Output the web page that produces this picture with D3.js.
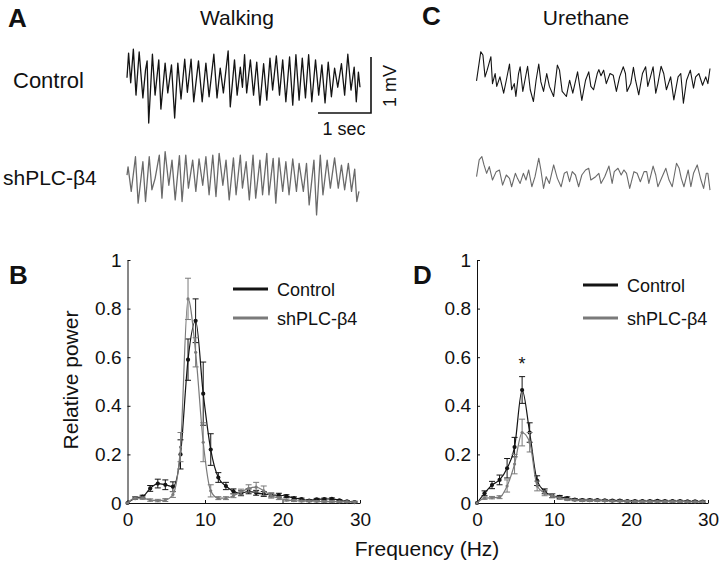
<!DOCTYPE html>
<html><head><meta charset="utf-8">
<script src="https://cdn.jsdelivr.net/npm/d3@7"></script>
<style>body{margin:0;background:#fff}svg{display:block;font-family:"Liberation Sans",Arial,sans-serif}</style>
</head><body><svg id="c" width="720" height="564"></svg>
<script>
// ---------- DATA ----------
// EEG traces: [time (s), voltage (mV)]
const walkControl = [[0.00,0.13],[0.03,0.57],[0.07,0.04],[0.12,0.64],[0.17,-0.18],[0.23,0.59],[0.30,-0.23],[0.35,0.27],[0.38,0.43],[0.41,-0.68],[0.48,0.55],[0.53,-0.18],[0.60,0.45],[0.64,-0.43],[0.72,0.39],[0.77,-0.14],[0.84,0.36],[0.90,-0.59],[0.96,0.39],[1.02,-0.25],[1.09,0.46],[1.14,-0.13],[1.21,0.46],[1.26,-0.30],[1.35,0.43],[1.42,-0.30],[1.49,0.39],[1.55,-0.21],[1.64,0.55],[1.70,-0.23],[1.76,0.30],[1.82,-0.14],[1.91,0.61],[1.95,-0.39],[2.03,0.45],[2.08,-0.18],[2.14,0.32],[2.18,-0.04],[2.22,0.54],[2.26,-0.14],[2.33,0.45],[2.39,-0.18],[2.45,0.41],[2.51,-0.36],[2.58,0.38],[2.64,-0.27],[2.70,0.48],[2.75,-0.09],[2.82,0.52],[2.88,-0.18],[2.94,0.45],[3.00,-0.30],[3.07,0.50],[3.13,-0.36],[3.19,0.54],[3.25,-0.27],[3.31,0.48],[3.37,-0.23],[3.43,0.54],[3.49,-0.30],[3.56,0.45],[3.62,-0.18],[3.68,0.36],[3.74,-0.32],[3.80,0.41],[3.86,-0.21],[3.92,0.30],[3.98,-0.04],[4.05,0.38],[4.11,-0.18],[4.17,0.55],[4.23,-0.09],[4.29,0.32],[4.33,-0.30],[4.37,0.23],[4.40,-0.04]];
const walkShPLC = [[0.00,0.05],[0.02,0.20],[0.08,-0.24],[0.16,0.38],[0.21,-0.45],[0.30,0.29],[0.35,-0.42],[0.42,0.38],[0.47,-0.21],[0.53,-0.01],[0.61,0.41],[0.66,-0.36],[0.72,0.47],[0.79,-0.13],[0.85,0.32],[0.91,-0.39],[0.99,0.40],[1.04,-0.42],[1.11,0.41],[1.16,-0.18],[1.24,0.32],[1.30,-0.24],[1.36,0.34],[1.43,-0.13],[1.49,0.38],[1.55,-0.30],[1.62,0.41],[1.68,-0.33],[1.74,0.44],[1.81,-0.13],[1.87,0.32],[1.93,-0.39],[2.01,0.36],[2.06,-0.30],[2.14,0.41],[2.18,-0.18],[2.25,0.29],[2.31,-0.39],[2.38,0.41],[2.43,-0.36],[2.51,0.32],[2.56,-0.30],[2.64,0.44],[2.68,-0.30],[2.76,0.35],[2.81,-0.45],[2.87,0.36],[2.94,-0.24],[3.00,0.29],[3.06,-0.30],[3.13,0.34],[3.20,-0.24],[3.25,0.26],[3.33,-0.24],[3.39,0.26],[3.44,-0.48],[3.53,0.32],[3.58,-0.66],[3.65,0.41],[3.70,-0.30],[3.78,0.32],[3.84,-0.18],[3.92,0.36],[3.99,-0.18],[4.05,0.23],[4.11,-0.21],[4.18,0.26],[4.24,-0.24],[4.30,0.16],[4.34,-0.42],[4.38,-0.24]];
const urethaneControl = [[0.01,-0.05],[0.09,0.47],[0.13,0.41],[0.17,0.02],[0.21,0.14],[0.28,0.38],[0.31,-0.10],[0.36,0.08],[0.39,-0.15],[0.45,0.02],[0.52,-0.27],[0.57,-0.04],[0.63,0.25],[0.67,-0.21],[0.72,-0.10],[0.75,-0.33],[0.80,0.08],[0.83,0.20],[0.88,-0.24],[0.92,-0.04],[0.97,0.21],[1.02,-0.21],[1.08,-0.42],[1.13,-0.04],[1.18,0.25],[1.22,-0.07],[1.27,-0.24],[1.33,0.08],[1.38,-0.15],[1.46,-0.33],[1.53,0.23],[1.57,0.14],[1.62,-0.24],[1.70,-0.33],[1.76,-0.04],[1.82,-0.27],[1.91,0.11],[1.96,-0.21],[1.99,-0.40],[2.06,-0.04],[2.12,0.11],[2.16,-0.15],[2.21,-0.21],[2.28,0.08],[2.31,0.15],[2.35,0.04],[2.40,0.14],[2.45,-0.10],[2.52,0.08],[2.58,0.05],[2.64,-0.24],[2.70,0.02],[2.77,0.20],[2.81,0.08],[2.84,-0.24],[2.91,-0.10],[2.96,0.19],[3.00,-0.04],[3.06,-0.30],[3.13,0.08],[3.19,0.20],[3.23,-0.15],[3.28,0.02],[3.33,0.20],[3.38,-0.27],[3.42,-0.10],[3.48,0.21],[3.53,0.08],[3.58,-0.21],[3.66,0.02],[3.72,-0.39],[3.80,0.02],[3.85,0.08],[3.90,-0.45],[3.96,-0.04],[4.03,0.14],[4.09,-0.18],[4.13,0.02],[4.19,0.08],[4.26,-0.13],[4.32,0.02],[4.36,-0.10],[4.40,0.17]];
const urethaneShPLC = [[0.01,-0.03],[0.06,0.27],[0.11,0.33],[0.15,0.18],[0.20,0.03],[0.25,0.15],[0.31,-0.09],[0.38,0.06],[0.44,0.09],[0.50,-0.18],[0.57,0.00],[0.63,-0.06],[0.67,-0.21],[0.74,0.03],[0.78,-0.06],[0.83,-0.15],[0.89,0.03],[0.94,-0.09],[0.99,0.09],[1.05,-0.21],[1.11,-0.03],[1.18,0.30],[1.22,0.09],[1.27,-0.24],[1.32,-0.03],[1.38,-0.15],[1.46,0.18],[1.53,-0.06],[1.60,-0.21],[1.66,0.03],[1.71,0.06],[1.76,-0.12],[1.81,0.06],[1.87,0.00],[1.93,-0.21],[1.99,0.00],[2.06,0.09],[2.12,0.12],[2.16,-0.09],[2.25,-0.03],[2.31,0.03],[2.35,-0.15],[2.42,-0.03],[2.50,0.16],[2.56,-0.15],[2.60,0.06],[2.67,0.12],[2.73,0.00],[2.78,0.09],[2.83,0.03],[2.89,-0.24],[2.97,0.06],[3.03,0.03],[3.09,-0.12],[3.16,0.06],[3.21,0.06],[3.25,-0.15],[3.33,0.16],[3.38,0.00],[3.42,-0.21],[3.50,-0.03],[3.57,0.12],[3.63,-0.09],[3.69,-0.21],[3.77,0.21],[3.82,0.12],[3.86,-0.06],[3.91,-0.21],[3.99,0.09],[4.04,-0.21],[4.09,0.03],[4.16,0.18],[4.23,-0.09],[4.28,-0.24],[4.33,0.03],[4.36,0.03],[4.40,-0.27]];

// Power spectra: frequency bins (Hz)
const freqHz = [0,0.98,1.95,2.93,3.91,4.88,5.86,6.84,7.81,8.79,9.77,10.74,11.72,12.70,13.67,14.65,15.63,16.60,17.58,18.55,19.53,20.51,21.48,22.46,23.44,24.41,25.39,26.37,27.34,28.32,29.30];
// Panel B (walking)
const walkCtrlPow = [0.00,0.02,0.026,0.06,0.08,0.075,0.067,0.20,0.59,0.75,0.45,0.22,0.105,0.07,0.048,0.040,0.048,0.042,0.037,0.033,0.032,0.028,0.02,0.016,0.01,0.015,0.016,0.017,0.011,0.007,0.004];
const walkCtrlErr = [0,0.005,0.006,0.012,0.018,0.02,0.02,0.06,0.085,0.09,0.13,0.065,0.02,0.015,0.01,0.01,0.01,0.01,0.01,0.008,0.008,0.006,0.005,0.004,0.004,0.004,0.004,0.004,0.003,0.003,0.003];
const walkShPow = [0.00,0.02,0.02,0.012,0.01,0.012,0.035,0.23,0.84,0.62,0.25,0.05,0.02,0.02,0.03,0.045,0.06,0.065,0.05,0.03,0.02,0.012,0.01,0.008,0.008,0.007,0.006,0.006,0.005,0.005,0.004];
const walkShErr = [0,0.005,0.005,0.005,0.005,0.006,0.012,0.06,0.085,0.06,0.08,0.025,0.006,0.006,0.008,0.012,0.015,0.02,0.02,0.01,0.006,0.004,0.004,0.003,0.003,0.003,0.003,0.003,0.003,0.003,0.003];
// Panel D (urethane)
const ureCtrlPow = [0.00,0.04,0.074,0.095,0.143,0.23,0.465,0.29,0.092,0.048,0.03,0.025,0.02,0.014,0.012,0.012,0.012,0.011,0.01,0.01,0.008,0.008,0.008,0.008,0.009,0.008,0.008,0.008,0.007,0.007,0.006];
const ureCtrlErr = [0,0.01,0.015,0.02,0.04,0.04,0.055,0.04,0.02,0.01,0.008,0.006,0.005,0.004,0.004,0.004,0.003,0.003,0.003,0.003,0.003,0.003,0.003,0.003,0.003,0.003,0.003,0.003,0.003,0.003,0.003];
const ureShPow = [0.00,0.02,0.022,0.024,0.07,0.16,0.29,0.25,0.07,0.04,0.03,0.02,0.014,0.012,0.01,0.01,0.01,0.009,0.008,0.008,0.007,0.006,0.006,0.006,0.006,0.006,0.006,0.006,0.005,0.005,0.005];
const ureShErr = [0,0.005,0.005,0.006,0.025,0.04,0.055,0.04,0.02,0.01,0.008,0.005,0.004,0.003,0.003,0.003,0.003,0.003,0.003,0.003,0.003,0.003,0.003,0.003,0.003,0.003,0.003,0.003,0.003,0.003,0.003];

const xTicks = [0,10,20,30];
const yTicks = [0,0.2,0.4,0.6,0.8,1];
const seriesNames = ["Control","shPLC-\u03B24"];
const BLACK = "#141414", GRAY = "#7a7a7a";

// ---------- DRAW ----------
const svg = d3.select("#c");

function txt(x, y, s, size, opts = {}) {
  const t = svg.append("text").attr("x", x).attr("y", y).text(s)
    .attr("font-size", size).attr("fill", "#111");
  if (opts.bold) t.attr("font-weight", "bold");
  if (opts.anchor) t.attr("text-anchor", opts.anchor);
  if (opts.rotate) t.attr("transform", `rotate(-90,${x},${y})`);
  return t;
}

// Panel labels and titles
txt(8, 27, "A", 26, {bold: true});
txt(422, 25, "C", 26, {bold: true});
txt(9, 284, "B", 26, {bold: true});
txt(413, 284, "D", 26, {bold: true});
txt(237, 25, "Walking", 21, {anchor: "middle"});
txt(586, 25, "Urethane", 21, {anchor: "middle"});
txt(13, 88, "Control", 22);
txt(3, 185, "shPLC-\u03B24", 21);

// Traces
function trace(data, x0, x1, base, color, w) {
  const x = d3.scaleLinear().domain([0, 4.4]).range([x0, x1]);
  const y = d3.scaleLinear().domain([-1, 1]).range([base + 56, base - 56]);
  svg.append("path").datum(data)
    .attr("d", d3.line().x(d => x(d[0])).y(d => y(d[1])))
    .attr("fill", "none").attr("stroke", color).attr("stroke-width", w)
    .attr("stroke-linejoin", "round");
  return {x, y};
}
trace(walkControl, 127, 360, 85, BLACK, 1.3);
trace(walkShPLC, 127, 360, 178, "#6a6a6a", 1.3);
trace(urethaneControl, 476, 710, 78, BLACK, 1.1);
trace(urethaneShPLC, 476, 710, 175, "#6a6a6a", 1.1);

// Scale bar (1 sec, 1 mV)
{
  const sx = d3.scaleLinear().domain([0, 1]).range([318, 371]);
  const sy = d3.scaleLinear().domain([0, 1]).range([113, 57]);
  svg.append("path")
    .attr("d", `M${sx(0)},${sy(0)}H${sx(1)}V${sy(1)}`)
    .attr("fill", "none").attr("stroke", "#111").attr("stroke-width", 1.6);
  txt(344, 135, "1 sec", 18, {anchor: "middle"});
  txt(396, 86, "1 mV", 18, {anchor: "middle", rotate: true});
}

// Spectrum panels
function spectrum(x0, x1, ctrl, ctrlErr, sh, shErr, legY, legX, star) {
  const x = d3.scaleLinear().domain([0, 30]).range([x0, x1]);
  const y = d3.scaleLinear().domain([0, 1]).range([503, 260]);
  const g = svg.append("g");
  const xa = g.append("g").attr("transform", "translate(0,503)")
    .call(d3.axisBottom(x).tickValues(xTicks).tickSizeInner(-3).tickSizeOuter(0).tickPadding(10));
  const ya = g.append("g").attr("transform", `translate(${x0},0)`)
    .call(d3.axisLeft(y).tickValues(yTicks).tickSizeInner(-3).tickSizeOuter(0).tickPadding(6)
      .tickFormat(d => (d === 0 || d === 1) ? String(d) : d3.format(".1f")(d)));
  [xa, ya].forEach(a => {
    a.selectAll("text").attr("font-size", 19).attr("font-family", '"Liberation Sans",Arial,sans-serif').attr("fill", "#111");
    a.selectAll("line,path").attr("stroke", "#111");
  });

  const line = d3.line().x((d, i) => x(freqHz[i])).y(d => y(d)).curve(d3.curveMonotoneX);
  const series = [
    {v: ctrl, e: ctrlErr, c: BLACK, r: 2.1},
    {v: sh, e: shErr, c: GRAY, r: 1.6}
  ];
  series.forEach(s => {
    const sg = g.append("g");
    sg.append("path").datum(s.v).attr("d", line).attr("fill", "none")
      .attr("stroke", s.c).attr("stroke-width", 1.2);
    sg.selectAll(".eb").data(s.v.map((v, i) => ({f: freqHz[i], v, e: s.e[i]})).filter(d => d.e > 0))
      .enter().append("path")
      .attr("d", d => `M${x(d.f)},${y(d.v - d.e)}V${y(d.v + d.e)}M${x(d.f) - 3},${y(d.v - d.e)}h6M${x(d.f) - 3},${y(d.v + d.e)}h6`)
      .attr("stroke", s.c).attr("stroke-width", 1).attr("fill", "none");
    sg.selectAll("circle").data(s.v).enter().append("circle")
      .attr("cx", (d, i) => x(freqHz[i])).attr("cy", d => y(d)).attr("r", s.r).attr("fill", s.c);
  });

  // legend
  series.forEach((s, i) => {
    const ly = legY[i];
    g.append("line").attr("x1", legX).attr("x2", legX + 35).attr("y1", ly).attr("y2", ly)
      .attr("stroke", s.c).attr("stroke-width", 3);
    g.append("text").attr("x", legX + 44).attr("y", ly + 6.5).text(seriesNames[i])
      .attr("font-size", 18).attr("fill", "#111");
  });

  if (star !== undefined) {
    g.append("text").attr("x", x(freqHz[star])).attr("y", y(ctrl[star] + ctrlErr[star]))
      .attr("dy", -7).text("*").attr("text-anchor", "middle").attr("font-size", 18).attr("fill", "#111");
  }
}
spectrum(127.5, 360, walkCtrlPow, walkCtrlErr, walkShPow, walkShErr, [289, 318], 233);
spectrum(477, 708, ureCtrlPow, ureCtrlErr, ureShPow, ureShErr, [285, 318], 583, 6);

// Axis titles
txt(78, 380, "Relative power", 21, {anchor: "middle", rotate: true});
txt(427, 556, "Frequency (Hz)", 21, {anchor: "middle"});
</script></body></html>
